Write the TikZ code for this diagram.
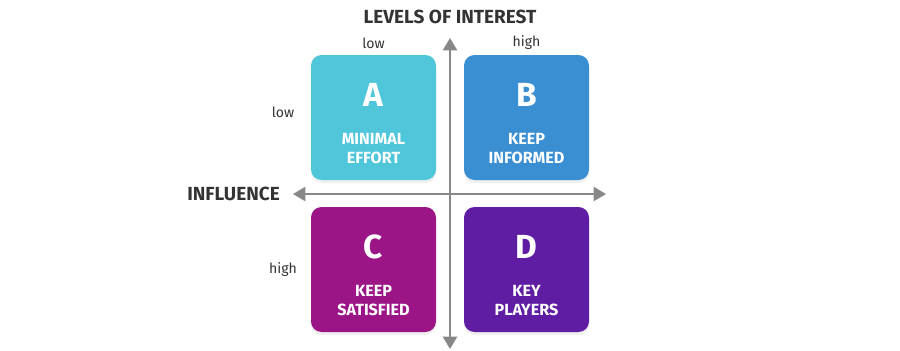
\documentclass[tikz,border=0pt]{standalone}
\usepackage{fontspec}
\setmainfont{Fira Sans}
\usepackage{tikz}
\usetikzlibrary{shadows,arrows.meta}
\definecolor{qdcyan}{RGB}{79,198,218}
\definecolor{qdblue}{RGB}{58,143,211}
\definecolor{qdmagenta}{RGB}{155,21,135}
\definecolor{qdpurple}{RGB}{94,29,163}
\definecolor{qdaxis}{RGB}{136,136,136}
\definecolor{qdtext}{RGB}{51,51,51}
\tikzset{
    quad/.style={rounded corners=6pt, minimum width=2.5cm, minimum height=2.5cm,
        drop shadow={opacity=0.12, shadow xshift=0pt, shadow yshift=-0.06cm}},
    letter/.style={text=white, font=\bfseries\fontsize{19}{20}\selectfont},
    caption/.style={text=white, align=center, font=\bfseries\fontsize{9.2}{11}\selectfont},
    axis/.style={qdaxis, line width=1.2pt, {Triangle[length=7pt, width=8pt]}-{Triangle[length=7pt, width=8pt]}},
    lvl/.style={text=qdtext, font=\fontsize{8}{10}\selectfont},
    head/.style={text=qdtext, font=\bfseries\fontsize{10.8}{12}\selectfont},
}
\begin{document}
\begin{tikzpicture}
    \useasboundingbox (0,0) rectangle (18,7);

    % Quadrants
    \node[quad, fill=qdcyan] (qa) at (7.47,4.65) {};
    \node[quad, fill=qdblue] (qb) at (10.53,4.65) {};
    \node[quad, fill=qdmagenta] (qc) at (7.47,1.61) {};
    \node[quad, fill=qdpurple] (qd) at (10.53,1.61) {};

    % Axes
    \coordinate (top) at (9,6.24);
    \coordinate (bottom) at (9,0.02);
    \coordinate (left) at (5.86,3.12);
    \coordinate (right) at (12.12,3.12);
    \draw[axis] (bottom) -- (top);
    \draw[axis] (left) -- (right);

    % Letters and texts
    \node[letter] (la) at (7.47,5.1) {A};
    \node[letter] (lb) at (10.53,5.1) {B};
    \node[letter] (lc) at (7.47,2.06) {C};
    \node[letter] (ld) at (10.53,2.06) {D};
    \node[caption] (ta) at (7.47,4.03) {MINIMAL\\EFFORT};
    \node[caption] (tb) at (10.53,4.03) {KEEP\\INFORMED};
    \node[caption] (tc) at (7.47,0.99) {KEEP\\SATISFIED};
    \node[caption] (td) at (10.53,0.99) {KEY\\PLAYERS};

    % Labels
    \node[head] (interest) at (9,6.66) {LEVELS OF INTEREST};
    \node[head, anchor=east] (influence) at (5.72,3.12) {INFLUENCE};
    \node[lvl] (collow) at (7.47,6.14) {low};
    \node[lvl] (colhigh) at (10.53,6.14) {high};
    \node[lvl] (rowlow) at (5.66,4.76) {low};
    \node[lvl] (rowhigh) at (5.66,1.6) {high};
\end{tikzpicture}
\end{document}
